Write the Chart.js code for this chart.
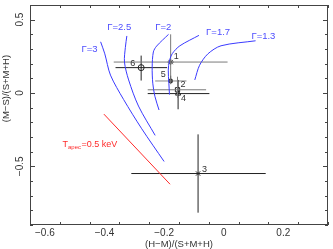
<!DOCTYPE html>
<html>
<head>
<meta charset="utf-8">
<script src="https://cdn.jsdelivr.net/npm/chart.js@4.4.1/dist/chart.umd.min.js"></script>
<style>
  html, body { margin: 0; padding: 0; background: #fff; }
  #wrap { width: 333px; height: 249px; }
</style>
</head>
<body>
<div id="wrap"><canvas id="hr" width="333" height="249"></canvas></div>
<script>
/* hardness ratio diagram: (M-S)/(S+M+H) vs (H-M)/(S+M+H) */

const xMin = -0.65, xMax = 0.35;
const yMin = -0.9, yMax = 0.6;
const xTickLabels = [-0.6, -0.4, -0.2, 0, 0.2];
const yTickLabels = [-0.5, 0, 0.5];

// power-law tracks
const g3X  = [-0.413, -0.399, -0.380, -0.336, -0.275, -0.200];
const g3Y  = [0.349, 0.267, 0.122, -0.044, -0.244, -0.467];
const g25X = [-0.325, -0.330, -0.333, -0.319, -0.286, -0.230];
const g25Y = [0.389, 0.311, 0.211, 0.089, -0.089, -0.289];
const g2X  = [-0.185, -0.225, -0.236, -0.240, -0.238, -0.231, -0.217];
const g2Y  = [0.400, 0.320, 0.280, 0.178, 0.067, -0.022, -0.116];
const g17X = [-0.083, -0.147, -0.172, -0.182, -0.186, -0.184, -0.182];
const g17Y = [0.393, 0.322, 0.270, 0.220, 0.156, 0.067, -0.011];
const g13X = [0.107, -0.009, -0.053, -0.081, -0.097];
const g13Y = [0.356, 0.322, 0.267, 0.189, 0.089];
const gammaNames = ['Γ=3', 'Γ=2.5', 'Γ=2', 'Γ=1.7', 'Γ=1.3'];
const gammaLabelX = [-0.477, -0.391, -0.230, -0.059, 0.093];
const gammaLabelY = [0.295, 0.445, 0.445, 0.411, 0.385];

// apec track
const apecX = [-0.402, -0.180];
const apecY = [-0.144, -0.622];
const apecLabelX = -0.541, apecLabelY = -0.353;

// sources 1..6
const srcNames = ['1', '2', '3', '4', '5', '6'];
const srcX    = [-0.178, -0.155, -0.086, -0.153, -0.178, -0.277];
const srcY    = [0.211, 0.022, -0.549, -0.004, 0.082, 0.173];
const srcXLo  = [-0.369, -0.255, -0.310, -0.255, -0.230, -0.363];
const srcXHi  = [0.013, -0.059, 0.141, -0.048, -0.125, -0.190];
const srcYLo  = [0.060, -0.033, -0.816, -0.111, 0.067, 0.085];
const srcYHi  = [0.400, 0.111, -0.282, 0.089, 0.118, 0.255];

// styles
const srcMarker = ['star', 'rect', 'crossRot', 'triangle', 'circle', 'circle'];
const srcRadius = [3, 3, 3, 3, 2, 3];
const srcFill   = [false, false, false, false, true, false];
const srcXCol   = ['#7a7a7a', '#7a7a7a', '#222', '#222', '#888', '#222'];
const srcYCol   = ['#7a7a7a', '#7a7a7a', '#222', '#222', '#111', '#222'];
const srcLabelDx = [5, 5, 6, 5, -5, -6];
const srcLabelDy = [-6, -5, -4, 5, -6, -4];

const FONT = '"Liberation Sans", Arial, sans-serif';
const BLUE = '#3a3aff';

const pts = (xs, ys) => xs.map((v, i) => ({ x: v, y: ys[i] }));

const datasets = [];

[[g3X, g3Y], [g25X, g25Y], [g2X, g2Y], [g17X, g17Y], [g13X, g13Y]].forEach(([xs, ys]) => {
    datasets.push({ data: pts(xs, ys), showLine: true, borderColor: BLUE, borderWidth: 1, pointRadius: 0, tension: 0.3 });
});
datasets.push({ data: pts(apecX, apecY), showLine: true, borderColor: '#ff2a2a', borderWidth: 1, pointRadius: 0 });

srcNames.forEach((_, i) => {
    datasets.push({ data: [{ x: srcXLo[i], y: srcY[i] }, { x: srcXHi[i], y: srcY[i] }],
        showLine: true, borderColor: srcXCol[i], borderWidth: 1, pointRadius: 0 });
    datasets.push({ data: [{ x: srcX[i], y: srcYLo[i] }, { x: srcX[i], y: srcYHi[i] }],
        showLine: true, borderColor: srcYCol[i], borderWidth: 1, pointRadius: 0 });
    datasets.push({ data: [{ x: srcX[i], y: srcY[i] }], showLine: false,
        pointStyle: srcMarker[i], pointRadius: srcRadius[i], borderColor: '#222', borderWidth: 1,
        backgroundColor: srcFill[i] ? '#111' : 'rgba(0,0,0,0)' });
});

function fmt(v) {
    const r = Math.round(v * 10) / 10;
    if (r === 0) return '0';
    return (r < 0 ? '\u2212' : '') + Math.abs(r).toString();
}
const near = (v, arr) => arr.some(t => Math.abs(t - v) < 1e-6);

const axesPlugin = {
    id: 'axesPlugin',
    afterDatasetsDraw(chart) {
        const { ctx, chartArea: a, scales: { x, y } } = chart;
        ctx.save();
        ctx.strokeStyle = '#444';
        ctx.lineWidth = 1;
        ctx.strokeRect(a.left + 0.5, a.top + 0.5, a.right - a.left - 1, a.bottom - a.top - 1);

        const seg = (x1, y1, x2, y2) => { ctx.beginPath(); ctx.moveTo(x1, y1); ctx.lineTo(x2, y2); ctx.stroke(); };

        x.ticks.forEach(t => {
            const px = Math.round(x.getPixelForValue(t.value)) + 0.5;
            const len = near(t.value, xTickLabels) ? 5 : 3;
            seg(px, a.bottom, px, a.bottom - len);
            seg(px, a.top, px, a.top + len);
        });
        y.ticks.forEach(t => {
            const py = Math.round(y.getPixelForValue(t.value)) + 0.5;
            const len = near(t.value, yTickLabels) ? 5 : 3;
            seg(a.left, py, a.left + len, py);
            seg(a.right, py, a.right - len, py);
        });

        ctx.fillStyle = '#333';
        ctx.font = '10px ' + FONT;
        ctx.textAlign = 'center';
        ctx.textBaseline = 'middle';
        xTickLabels.forEach(v => ctx.fillText(fmt(v), x.getPixelForValue(v), a.bottom + 8));
        yTickLabels.forEach(v => {
            ctx.save();
            ctx.translate(a.left - 10, y.getPixelForValue(v));
            ctx.rotate(-Math.PI / 2);
            ctx.fillText(fmt(v), 0, 0);
            ctx.restore();
        });

        ctx.font = '9.5px ' + FONT;
        ctx.fillText('(H\u2212M)/(S+M+H)', x.getPixelForValue(-0.15), a.bottom + 19);
        ctx.save();
        ctx.translate(6, y.getPixelForValue(0.03));
        ctx.rotate(-Math.PI / 2);
        ctx.fillText('(M\u2212S)/(S+M+H)', 0, 0);
        ctx.restore();

        // Gamma labels
        ctx.font = '9.5px ' + FONT;
        ctx.textAlign = 'left';
        ctx.fillStyle = '#4d4dff';
        gammaNames.forEach((s, i) => ctx.fillText(s, x.getPixelForValue(gammaLabelX[i]), y.getPixelForValue(gammaLabelY[i])));

        // apec label
        ctx.font = '9px ' + FONT;
        ctx.fillStyle = '#ff2a2a';
        let lx = x.getPixelForValue(apecLabelX);
        const ly = y.getPixelForValue(apecLabelY);
        ctx.fillText('T', lx, ly);
        lx += ctx.measureText('T').width;
        ctx.font = '6px ' + FONT;
        ctx.fillText('apec', lx, ly + 3);
        lx += ctx.measureText('apec').width + 0.5;
        ctx.font = '9px ' + FONT;
        ctx.fillText('=0.5 keV', lx, ly);

        // source numbers
        ctx.fillStyle = '#333';
        srcNames.forEach((s, i) => {
            ctx.textAlign = srcLabelDx[i] < 0 ? 'right' : 'left';
            ctx.fillText(s, x.getPixelForValue(srcX[i]) + srcLabelDx[i] - (srcLabelDx[i] < 0 ? 0 : 2),
                y.getPixelForValue(srcY[i]) + srcLabelDy[i]);
        });
        ctx.restore();
    }
};

new Chart(document.getElementById('hr'), {
    type: 'scatter',
    data: { datasets },
    options: {
        responsive: false,
        animation: false,
        events: [],
        layout: { padding: { top: 1, right: 1, left: 0, bottom: 0 } },
        plugins: { legend: { display: false }, tooltip: { enabled: false } },
        scales: {
            x: {
                type: 'linear', min: xMin, max: xMax,
                ticks: { stepSize: 0.1, includeBounds: false, display: false },
                grid: { display: false }, border: { display: false },
                afterFit: s => { s.height = 24; }
            },
            y: {
                type: 'linear', min: yMin, max: yMax,
                ticks: { stepSize: 0.1, includeBounds: false, display: false },
                grid: { display: false }, border: { display: false },
                afterFit: s => { s.width = 30; }
            }
        }
    },
    plugins: [axesPlugin]
});
</script>
</body>
</html>
